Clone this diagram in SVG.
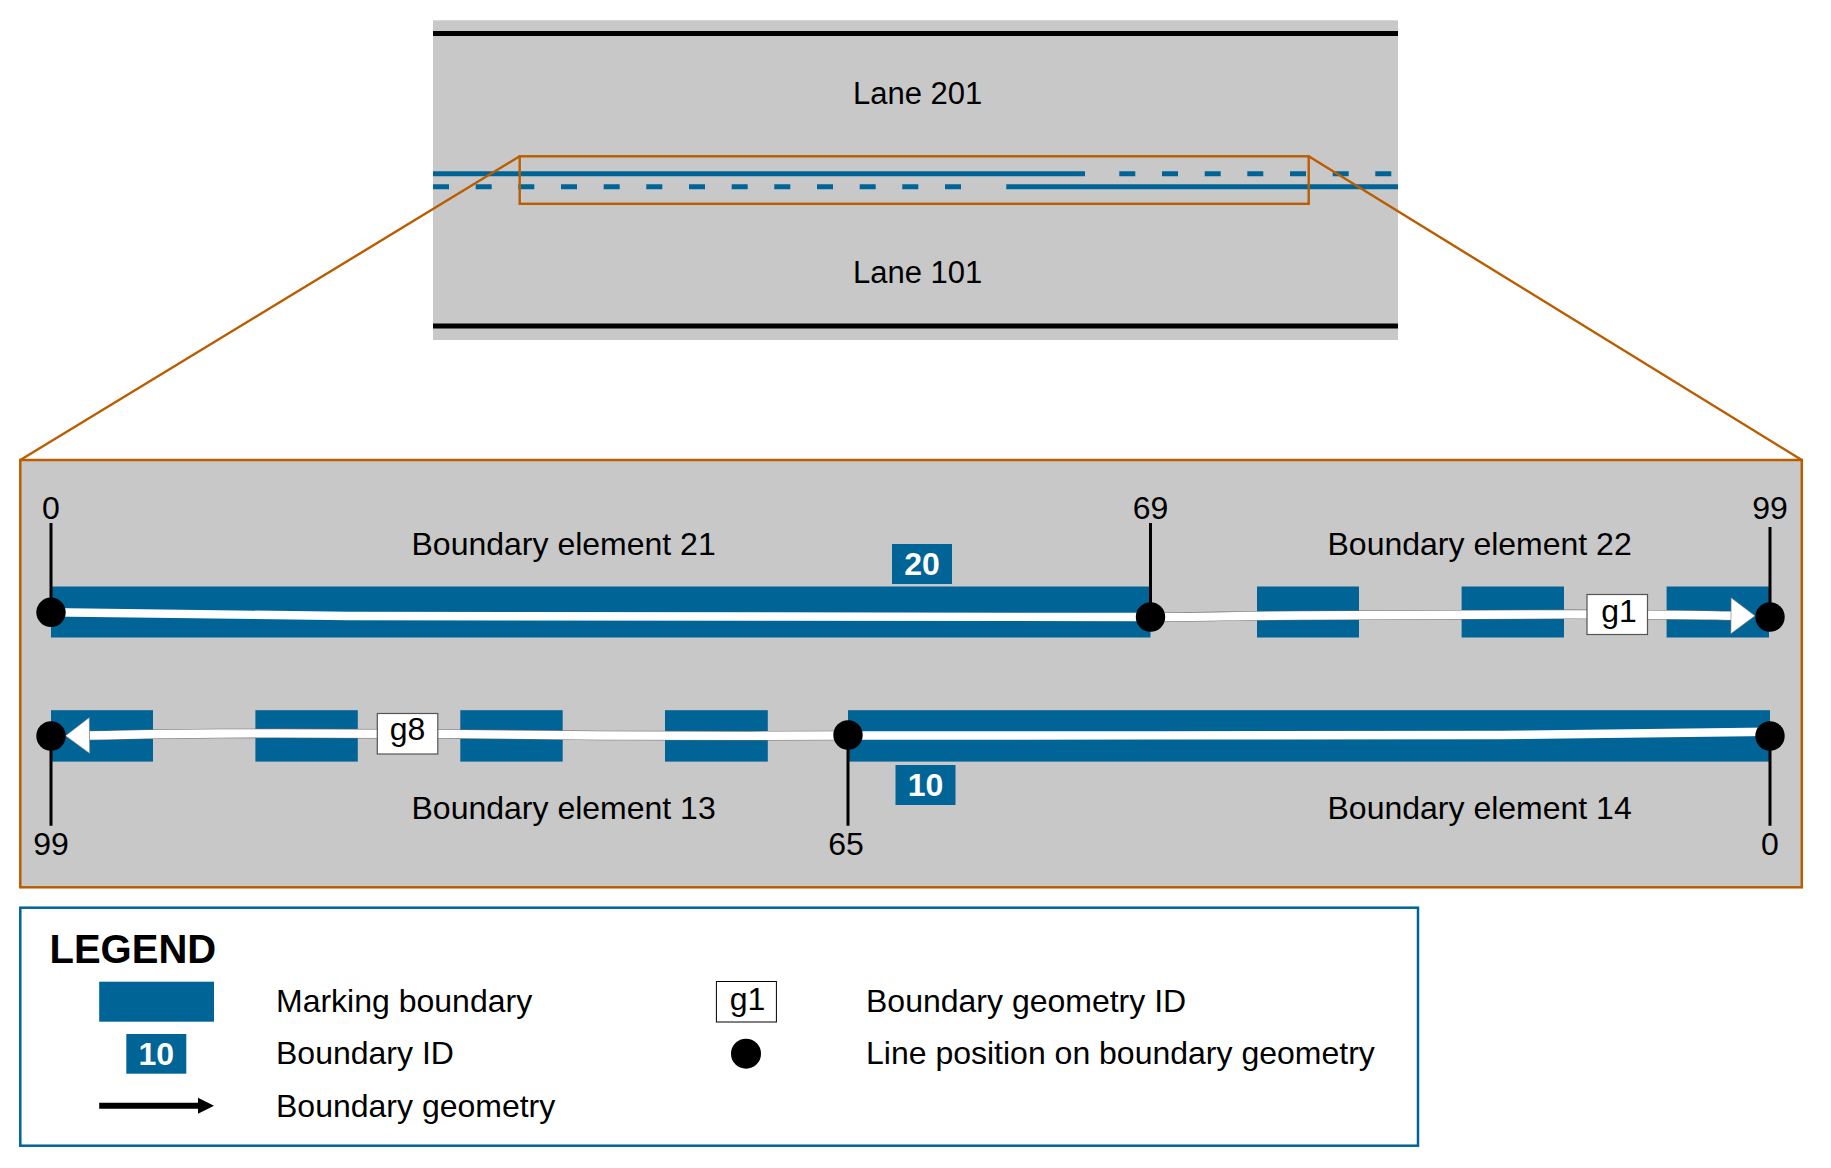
<svg xmlns="http://www.w3.org/2000/svg" width="1831" height="1168" viewBox="0 0 1831 1168">
<style>
text{font-family:"Liberation Sans",Arial,sans-serif;fill:#000}
.t{font-size:32px}
.l{font-size:31px}
.b{font-size:32px}
.w{font-size:32px;font-weight:700;fill:#fff;text-anchor:middle}
.m{text-anchor:middle}
.bar{fill:#006497}
.road{fill:#c8c8c8}
.edge{stroke:#000;stroke-width:5;fill:none}
.mk{stroke:#006497;stroke-width:5;fill:none}
.or{stroke:#ba5c00;fill:none}
.tick{stroke:#000;stroke-width:3}
.geoO{fill:none;stroke:#6e6e6e;stroke-width:9.5}
.geoC{fill:none;stroke:#fff;stroke-width:8.4}
.id{fill:#fff;stroke:#555;stroke-width:1.2}
</style>
<defs>
<marker id="wh" markerUnits="userSpaceOnUse" markerWidth="30" markerHeight="40" refX="2" refY="20" orient="auto"><path d="M2 2L26 20L2 38Z" fill="#fff" stroke="#777" stroke-width=".6"/></marker>
</defs>
<g id="road">
<rect class="road" x="433" y="20.3" width="965" height="319.7"/>
<path class="edge" d="M433 33.5H1398M433 326H1398"/>
<path class="mk" d="M433 173.7H1085"/>
<path class="mk" d="M1006.3 186.7H1398"/>
<path class="mk" d="M1119.3 173.7h16M1162 173.7h16M1204.7 173.7h16M1247.3 173.7h16M1290 173.7h16M1332.7 173.7h16M1375.3 173.7h16"/>
<path class="mk" d="M433 186.7h16M475.7 186.7h16M518.3 186.7h16M561 186.7h16M603.7 186.7h16M646.3 186.7h16M689 186.7h16M731.7 186.7h16M774.3 186.7h16M817 186.7h16M859.7 186.7h16M902.3 186.7h16M945 186.7h16"/>
<text class="l" x="853" y="104.3">Lane 201</text>
<text class="l" x="853" y="282.7">Lane 101</text>
</g>
<g id="zoom-panel">
<rect class="road" x="20.3" y="460" width="1781.5" height="427.3" stroke="#ba5c00" stroke-width="2.5"/>
<rect class="or" x="519.7" y="156.3" width="789" height="47.5" stroke-width="2.4"/>
<path class="or" stroke-width="2.4" d="M519.7 156.3L20.3 460M1308.7 156.3L1801.8 460"/>
</g>
<g id="marking-bars">
<rect class="bar" x="51" y="586.5" width="1099.5" height="51"/>
<rect class="bar" x="1257" y="586.5" width="102" height="51"/>
<rect class="bar" x="1461.6" y="586.5" width="102.4" height="51"/>
<rect class="bar" x="1666.6" y="586.5" width="102.4" height="51"/>
<rect class="bar" x="51" y="710.2" width="102" height="51.4"/>
<rect class="bar" x="255.4" y="710.2" width="102.4" height="51.4"/>
<rect class="bar" x="460.3" y="710.2" width="102.4" height="51.4"/>
<rect class="bar" x="665" y="710.2" width="102.8" height="51.4"/>
<rect class="bar" x="848" y="710.2" width="922" height="51.4"/>
</g>
<g id="connectors">
<path class="tick" d="M51 523V612M1150.5 523V617M1770 527V617M51 736V825.7M848 735V825.7M1770 736V825.7"/>
<path class="geoO" d="M1150.5 617C1200 617 1230 616 1300 615.5S1500 614 1620 614.5S1700 615.5 1733 615.7"/>
<path class="geoO" d="M848 735.5C760 736 700 736 600 735.5S480 734 437 734S300 733 220 733.5S130 735 90 735.5"/>
<path class="geoC" d="M51 612.3C150 614 250 615.5 350 616S800 616.5 1150.5 617"/>
<path class="geoC" d="M1150.5 617C1200 617 1230 616 1300 615.5S1500 614 1620 614.5S1700 615.5 1731 615.7" marker-end="url(#wh)"/>
<path class="geoC" d="M1770 731.7C1700 732.5 1600 734 1500 735S1000 735 848 735.5"/>
<path class="geoC" d="M848 735.5C760 736 700 736 600 735.5S480 734 437 734S300 733 220 733.5S130 735 89.5 735.5" marker-end="url(#wh)"/>
</g>
<g id="positions">
<ellipse cx="51" cy="612.3" rx="14.7" ry="14.7"/>
<ellipse cx="1150.5" cy="617" rx="14.7" ry="14.7"/>
<ellipse cx="1770" cy="617" rx="14.7" ry="14.7"/>
<ellipse cx="51" cy="736" rx="14.7" ry="14.7"/>
<ellipse cx="848" cy="735" rx="14.7" ry="14.7"/>
<ellipse cx="1770" cy="736" rx="14.7" ry="14.7"/>
<text class="t m" x="51" y="519">0</text>
<text class="t m" x="1150.5" y="519">69</text>
<text class="t m" x="1770" y="519">99</text>
<text class="t m" x="51" y="855">99</text>
<text class="t m" x="846" y="855">65</text>
<text class="t m" x="1770" y="855">0</text>
</g>
<g id="labels">
<text class="b" x="411.5" y="555">Boundary element 21</text>
<text class="b" x="1327.5" y="555">Boundary element 22</text>
<text class="b" x="411.5" y="819">Boundary element 13</text>
<text class="b" x="1327.5" y="819">Boundary element 14</text>
</g>
<g id="boundary-20"><rect class="bar" x="892" y="544" width="60" height="40"/><text class="w" x="922" y="575">20</text></g>
<g id="boundary-10"><rect class="bar" x="895.5" y="765" width="60" height="40"/><text class="w" x="925.5" y="795.7">10</text></g>
<g id="geometry-g1"><rect class="id" x="1587" y="594.5" width="60.5" height="40"/><text class="t m" x="1619" y="621.7">g1</text></g>
<g id="geometry-g8"><rect class="id" x="377.3" y="713.5" width="60.5" height="40.5"/><text class="t m" x="407.5" y="740">g8</text></g>
<g id="legend">
<rect x="20.3" y="907.7" width="1397.7" height="238" fill="#fff" stroke="#006497" stroke-width="2.5"/>
<text x="49.5" y="963.3" font-size="40" font-weight="700">LEGEND</text>
<rect class="bar" x="99.2" y="981.7" width="114.8" height="40"/>
<rect class="bar" x="126.3" y="1034" width="60" height="39.7"/>
<text class="w" x="156.3" y="1065">10</text>
<path d="M99.2 1105.7H200" stroke="#000" stroke-width="6"/>
<path d="M198 1097.7L214 1105.7L198 1113.7Z"/>
<text class="b" x="276" y="1012.3">Marking boundary</text>
<text class="b" x="276" y="1064.3">Boundary ID</text>
<text class="b" x="276" y="1116.7">Boundary geometry</text>
<rect x="716.4" y="981.5" width="60" height="40.5" fill="#fff" stroke="#000" stroke-width="1"/>
<text class="t m" x="747.5" y="1010">g1</text>
<ellipse cx="746" cy="1053.7" rx="15" ry="15"/>
<text class="b" x="866" y="1012.3">Boundary geometry ID</text>
<text class="b" x="866" y="1064.3">Line position on boundary geometry</text>
</g>
</svg>
